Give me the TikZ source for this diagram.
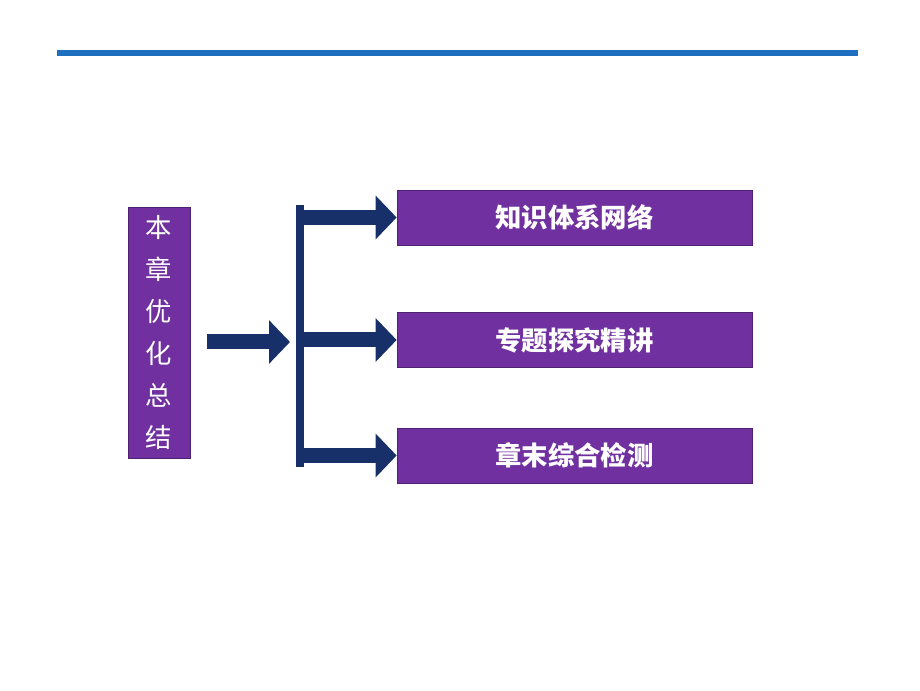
\documentclass[tikz,border=0pt]{standalone}
\usepackage{fontspec}
\newfontfamily\cjk{Noto Sans CJK SC}
\usetikzlibrary{arrows.meta,positioning}
\definecolor{topblue}{HTML}{1F6FC0}
\definecolor{boxpurple}{HTML}{7030A0}
\definecolor{navy}{HTML}{17306A}
\tikzset{
  item/.style={fill=boxpurple, draw=boxpurple!70!black, minimum width=7.1cm, minimum height=1.1cm,
    text=white, font=\cjk\bfseries\fontsize{15}{18}\selectfont},
  fat/.style={navy, line width=0.3cm, -{Triangle[length=0.42cm, width=0.85cm]}}
}
\begin{document}
\begin{tikzpicture}
                \useasboundingbox (0, 0) rectangle (18.4, 13.8);
                \coordinate (L) at (1.14, 12.74);
                \coordinate (R) at (17.16, 12.74);
                \draw[topblue, line width=3pt] (L) -- (R);
                \node[fill=boxpurple, draw=boxpurple!70!black, minimum width=1.24cm, minimum height=5.02cm,
                      text=white, font=\cjk\fontsize{15}{24}\selectfont, align=center]
                      (main) at (3.18, 7.15) {本\\章\\优\\化\\总\\结};
                \node[item] (net) at (11.49, 9.45) {知识体系网络};
                \node[item] (topic) at (11.49, 7.0) {专题探究精讲};
                \node[item] (test) at (11.49, 4.69) {章末综合检测};
                \coordinate (top) at (6.0, 9.7);
                \coordinate (bot) at (6.0, 4.46);
                \draw[navy, line width=0.16cm] (top) -- (bot);
                \draw[fat] (4.14, 6.96) -- (5.8, 6.96);
                \draw[fat] (6.05, 0 |- net.center) -- (net.west);
                \draw[fat] (6.05, 0 |- topic.center) -- (topic.west);
                \draw[fat] (6.05, 0 |- test.center) -- (test.west);
            \end{tikzpicture}
\end{document}
